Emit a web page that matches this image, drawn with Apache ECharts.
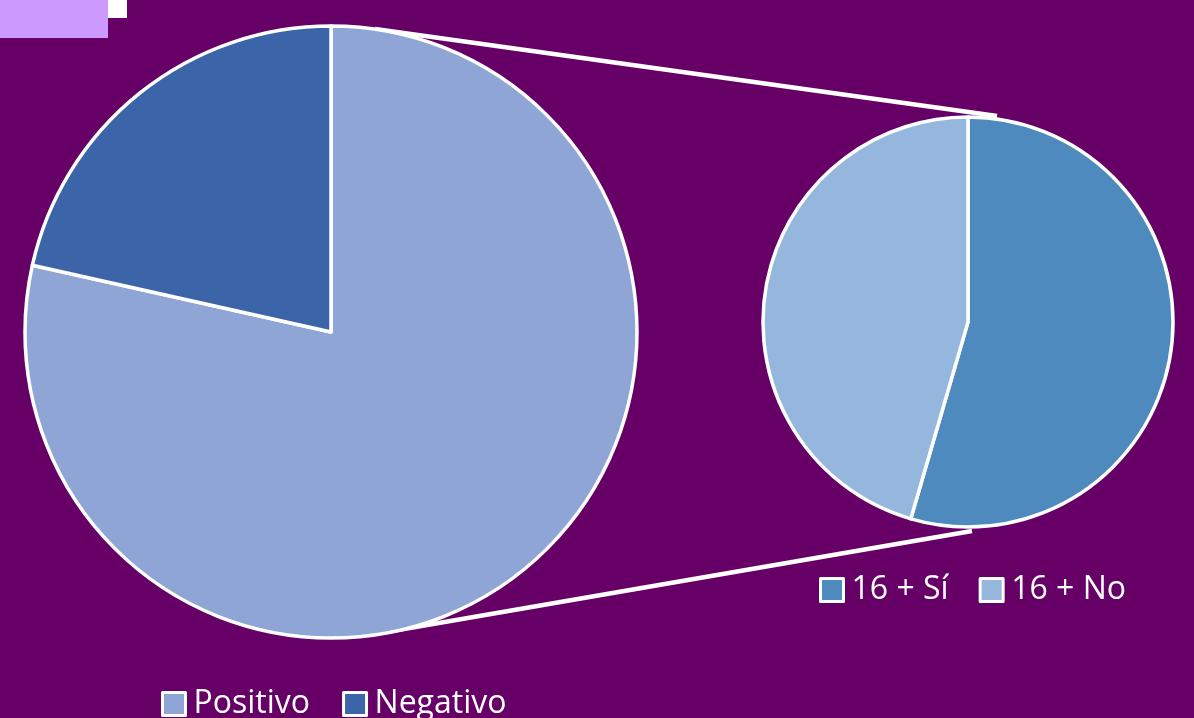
<!DOCTYPE html>
<html>
<head>
<meta charset="utf-8">
<style>
  html, body { margin: 0; padding: 0; background: #660066; }
  #chart { width: 1194px; height: 718px; }
</style>
<script src="https://cdn.jsdelivr.net/npm/echarts@6/dist/echarts.min.js"></script>
</head>
<body>
<div id="chart"></div>
<script>
// Main breakdown
const mainNames = ['Positivo', 'Negativo'];
const mainValues = [78.5, 21.5];
// Detail breakdown of the expanded slice
const detailNames = ['16 + Sí', '16 + No'];
const detailValues = [54.5, 45.5];

const mainColors = ['#8FA5D5', '#3C64A8'];
const detailColors = ['#4F8ABE', '#95B7DE'];

const chart = echarts.init(document.getElementById('chart'), null, { renderer: 'canvas' });

const textStyle = { color: '#ffffff', fontSize: 32, fontFamily: 'Open Sans, Noto Sans, sans-serif', padding: [0, 0, 0, 3] };
const legendItem = { borderColor: '#ffffff', borderWidth: 3 };

chart.setOption({
  backgroundColor: '#660066',
  animation: false,
  legend: [
    {
      data: mainNames,
      left: 156, top: 683,
      itemWidth: 23, itemHeight: 23, itemGap: 32,
      icon: 'rect',
      itemStyle: legendItem,
      textStyle: textStyle
    },
    {
      data: detailNames,
      left: 814, top: 569,
      itemWidth: 23, itemHeight: 23, itemGap: 30,
      icon: 'rect',
      itemStyle: legendItem,
      textStyle: textStyle
    }
  ],
  graphic: [
    { type: 'rect', shape: { x: 0, y: 0, width: 108, height: 38 }, style: { fill: '#CC99FF' } },
    { type: 'rect', shape: { x: 108, y: 0, width: 19, height: 18 }, style: { fill: '#ffffff' } },
    { type: 'line', shape: { x1: 375, y1: 29, x2: 997, y2: 116 }, style: { stroke: '#ffffff', lineWidth: 4.5 }, z: 1 },
    { type: 'line', shape: { x1: 375, y1: 634, x2: 972, y2: 531 }, style: { stroke: '#ffffff', lineWidth: 4.5 }, z: 1 }
  ],
  series: [
    {
      type: 'pie',
      center: [331, 332],
      radius: 306,
      startAngle: 90,
      clockwise: true,
      label: { show: false },
      labelLine: { show: false },
      emphasis: { disabled: true },
      itemStyle: { borderColor: '#ffffff', borderWidth: 3.5 },
      z: 3,
      data: mainNames.map((n, i) => ({ name: n, value: mainValues[i], itemStyle: { color: mainColors[i] } }))
    },
    {
      type: 'pie',
      center: [968, 322],
      radius: 205,
      startAngle: 90,
      clockwise: true,
      label: { show: false },
      labelLine: { show: false },
      emphasis: { disabled: true },
      itemStyle: { borderColor: '#ffffff', borderWidth: 3.5 },
      z: 3,
      data: detailNames.map((n, i) => ({ name: n, value: detailValues[i], itemStyle: { color: detailColors[i] } }))
    }
  ]
});
</script>
</body>
</html>
